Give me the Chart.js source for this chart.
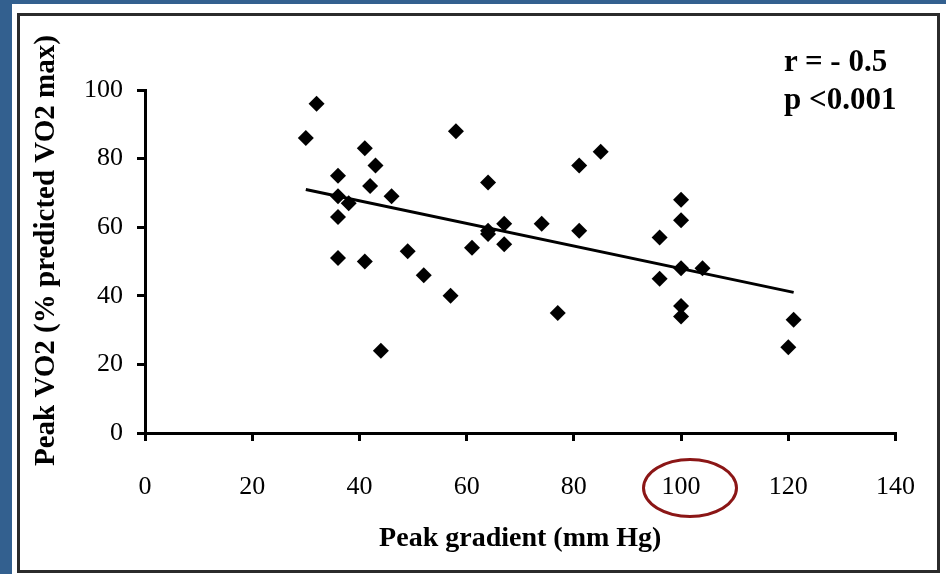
<!DOCTYPE html>
<html>
<head>
<meta charset="utf-8">
<script src="https://cdn.jsdelivr.net/npm/chart.js@4.4.1/dist/chart.umd.min.js"></script>
<style>
  html, body { margin: 0; padding: 0; }
  body { width: 946px; height: 574px; background: #33608f; position: relative; overflow: hidden; }
  #panel { position: absolute; left: 12px; top: 4px; right: 0; bottom: 0; background: #fff; }
  #frame { position: absolute; left: 17px; top: 13px; width: 923px; height: 560px; box-sizing: border-box; border: 3px solid #2b2b2b; }
  #wrap { position: absolute; left: 0; top: 0; width: 946px; height: 574px; }
  #stats { position: absolute; left: 784px; top: 42px; font: bold 31px "Liberation Serif", "Times New Roman", serif; line-height: 38px; color: #000; white-space: pre; }
  #ring { position: absolute; left: 642px; top: 458px; width: 96px; height: 60px; box-sizing: border-box; border: 3.5px solid #8b1616; border-radius: 50%; }
</style>
</head>
<body>
<div id="panel"></div>
<div id="frame"></div>
<div id="wrap"><canvas id="chart" width="946" height="574"></canvas></div>
<div id="stats">r = - 0.5
p &lt;0.001</div>
<div id="ring"></div>
<script>
// Peak gradient (mm Hg) vs peak VO2 (% predicted)
const gradient = [30, 32, 36, 36, 36, 36, 38, 41, 42, 43, 41, 46, 44, 49, 52, 57, 58, 61, 64, 64, 64,
  67, 67, 74, 77, 81, 81, 85, 96, 96, 100, 100, 100, 100, 100, 104, 120, 121];
const vo2 = [86, 96, 75, 69, 63, 51, 67, 83, 72, 78, 50, 69, 24, 53, 46, 40, 88, 54, 73, 59, 58,
  61, 55, 61, 35, 78, 59, 82, 57, 45, 68, 62, 48, 37, 34, 48, 25, 33];

// regression line end points
const fitX = [30, 121];
const fitY = [71, 41];

const xTicks = [0, 20, 40, 60, 80, 100, 120, 140];
const yTicks = [0, 20, 40, 60, 80, 100];

const points = gradient.map((g, i) => ({ x: g, y: vo2[i] }));
const fitLine = fitX.map((g, i) => ({ x: g, y: fitY[i] }));

const serif = '"Liberation Serif", "Times New Roman", serif';

new Chart(document.getElementById('chart'), {
  type: 'scatter',
  data: {
    datasets: [
      {
        data: points,
        pointStyle: 'rectRot',
        pointRadius: 8,
        pointHoverRadius: 8,
        backgroundColor: '#000',
        borderWidth: 0
      },
      {
        type: 'line',
        data: fitLine,
        borderColor: '#000',
        borderWidth: 3,
        pointRadius: 0,
        fill: false
      }
    ]
  },
  options: {
    responsive: false,
    animation: false,
    events: [],
    layout: { padding: { top: 90, right: 48, left: 0, bottom: 0 } },
    plugins: { legend: { display: false }, tooltip: { enabled: false } },
    scales: {
      x: {
        type: 'linear',
        min: 0,
        max: 140,
        afterFit: s => { s.height = 141; },
        afterBuildTicks: s => { s.ticks = xTicks.map(v => ({ value: v })); },
        ticks: { color: '#000', padding: 31, font: { family: serif, size: 26 } },
        grid: { drawOnChartArea: false, drawTicks: true, tickLength: 8, color: '#000', lineWidth: 3 },
        border: { display: true, color: '#000', width: 3 },
        title: {
          display: true,
          text: 'Peak gradient (mm Hg)',
          color: '#000',
          font: { family: serif, size: 28, weight: 'bold' },
          padding: { top: 0, bottom: 18 }
        }
      },
      y: {
        type: 'linear',
        min: 0,
        max: 100,
        afterFit: s => { s.width = 145; },
        afterBuildTicks: s => { s.ticks = yTicks.map(v => ({ value: v })); },
        ticks: { color: '#000', padding: 14, font: { family: serif, size: 26 } },
        grid: { drawOnChartArea: false, drawTicks: true, tickLength: 8, color: '#000', lineWidth: 3 },
        border: { display: true, color: '#000', width: 3 },
        title: {
          display: true,
          text: '   Peak VO2 (% predicted VO2 max)',
          color: '#000',
          font: { family: serif, size: 29, weight: 'bold' },
          padding: { top: 29, bottom: 0 }
        }
      }
    }
  }
});
</script>
</body>
</html>
